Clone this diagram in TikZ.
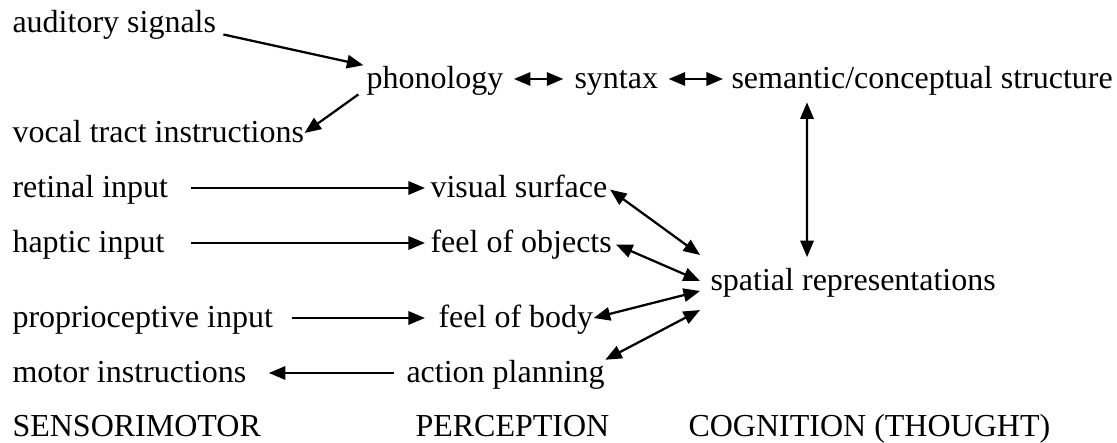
\documentclass[tikz,border=0pt]{standalone}
\usepackage{fontspec}
\setmainfont{Liberation Serif}
\usetikzlibrary{arrows.meta}

\begin{document}
\begin{tikzpicture}[x=0.375pt, y=-0.375pt, font=\fontsize{12}{14}\selectfont]
  \tikzstyle{every node} = [inner sep=0pt, anchor=base west, text height=8.5pt, text depth=1pt]
  \tikzstyle{arr} = [draw, line width=0.85pt, -{Triangle[length=6.2pt,width=5pt]}]
  \tikzstyle{dbl} = [draw, line width=0.85pt, {Triangle[length=6.2pt,width=5pt]}-{Triangle[length=6.2pt,width=5pt]}]
  \useasboundingbox (0,0) rectangle (1117,443);
  % sensorimotor column
  \foreach \n/\y/\t in {aud/33/auditory signals, voc/143/vocal tract instructions,
      ret/198/retinal input, hap/253/haptic input, pro/328/proprioceptive input,
      mot/383/motor instructions, sen/437/SENSORIMOTOR}{
    \node (\n) at (12,\y) {\t};
  }
  % perception column
  \node (phon) at (366,89) {phonology};
  \node (syn) at (574,89) {syntax};
  \node (vis) at (430,198) {visual surface};
  \node (obj) at (430,253) {feel of objects};
  \node (body) at (438,328) {feel of body};
  \node (plan) at (406,383) {action planning};
  \node (per) at (415,437) {PERCEPTION};
  % cognition column
  \node (sem) at (731,89) {semantic/conceptual structure};
  \node (spa) at (710,291) {spatial representations};
  \node (cog) at (688,437) {COGNITION (THOUGHT)};
  % language
  \path (aud.base east) edge[arr, shorten <=2.6pt, shorten >=1pt] (phon.north west);
  \path (phon.base west) edge[arr, shorten <=3.5pt] (voc.east);
  \path (phon) edge[dbl, shorten <=3.75pt, shorten >=4pt] (syn);
  \path (syn) edge[dbl, shorten <=3.75pt, shorten >=3pt] (sem);
  \path ([xshift=28.5pt]sem.south west) edge[dbl, shorten <=3.8pt, shorten >=4pt] ([xshift=36.4pt]spa.north west);
  % senses and action
  \path (ret) edge[arr, shorten <=8.3pt, shorten >=1.9pt] (vis);
  \path (hap) edge[arr, shorten <=9.75pt, shorten >=1.9pt] (obj);
  \path (pro) edge[arr, shorten <=7.1pt, shorten >=4.9pt] (body);
  \path (plan) edge[arr, shorten <=4.5pt, shorten >=8.25pt] (mot);
  % into spatial representations
  \path (vis.east) edge[dbl, shorten <=1pt] ([xshift=-3.75pt,yshift=9.75pt]spa.west);
  \path (obj.east) edge[dbl, shorten <=1.5pt] ([xshift=-3.75pt]spa.west);
  \path (body.east) edge[dbl] ([xshift=-3.75pt,yshift=-3.75pt]spa.west);
  \path (plan.north east) edge[dbl] ([xshift=-3.75pt,yshift=-10.9pt]spa.west);
\end{tikzpicture}
\end{document}
